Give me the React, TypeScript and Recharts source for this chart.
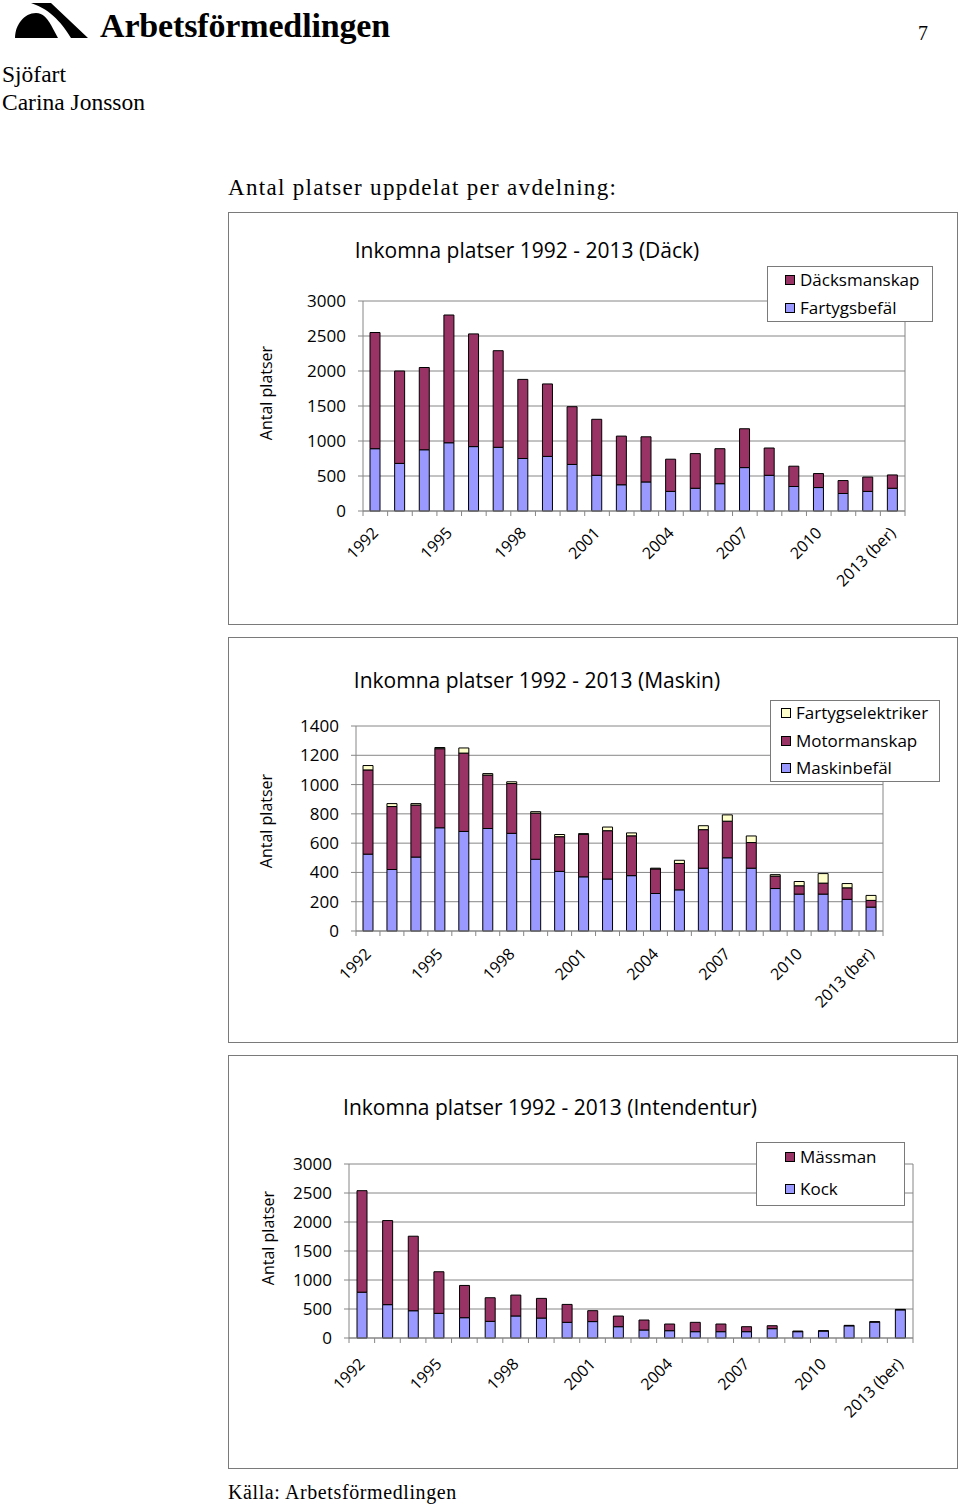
import React from 'react';
import { BarChart, Bar, XAxis, YAxis, CartesianGrid } from 'recharts';

// ---------- data ----------
const years = [
  '1992', '1993', '1994', '1995', '1996', '1997', '1998', '1999', '2000', '2001', '2002',
  '2003', '2004', '2005', '2006', '2007', '2008', '2009', '2010', '2011', '2012', '2013 (ber)',
];

// Däck
const fartygsbefal = [890, 680, 875, 975, 920, 910, 750, 780, 665, 510, 375, 415, 280, 325, 390, 620, 510, 350, 335, 250, 280, 325];
const dacksmanskap = [1660, 1320, 1175, 1825, 1610, 1380, 1130, 1035, 825, 800, 695, 645, 460, 495, 500, 555, 390, 290, 200, 185, 205, 190];

// Maskin
const maskinbefal = [525, 420, 505, 705, 680, 700, 667, 490, 407, 370, 355, 378, 256, 281, 429, 500, 429, 290, 252, 252, 216, 163];
const motormanskap = [575, 430, 355, 540, 535, 365, 340, 315, 237, 290, 330, 272, 168, 180, 263, 250, 175, 85, 57, 75, 79, 46];
const fartygselektriker = [30, 20, 10, 8, 35, 10, 12, 10, 15, 5, 25, 20, 5, 22, 27, 43, 45, 10, 29, 65, 29, 34];

// Intendentur
const kock = [790, 575, 470, 425, 350, 287, 380, 344, 270, 283, 195, 138, 126, 109, 109, 109, 161, 109, 120, 210, 275, 485];
const massman = [1750, 1450, 1285, 717, 556, 407, 360, 339, 309, 188, 184, 172, 115, 161, 132, 86, 51, 11, 6, 8, 6, 8];

const ticksDack = [0, 500, 1000, 1500, 2000, 2500, 3000];
const ticksMaskin = [0, 200, 400, 600, 800, 1000, 1200, 1400];
const ticksIntendentur = [0, 500, 1000, 1500, 2000, 2500, 3000];

// ---------- styles ----------
const FONT = '"Open Sans", "DejaVu Sans", sans-serif';
const SERIF = '"Liberation Serif", "Times New Roman", serif';
const GRID = '#868686';
const C_BLUE = '#9999FF';
const C_PURPLE = '#993366';
const C_YELLOW = '#FFFFCC';

type Series = { key: string; name: string; color: string; values: number[] };

function makeRows(series: Series[]) {
  return years.map((y, i) => {
    const r: Record<string, any> = { year: y };
    series.forEach((s) => {
      r[s.key] = s.values[i];
    });
    return r;
  });
}

function XTick(props: any) {
  const { x, y, payload, labelDy } = props;
  const half = payload && typeof payload.offset === 'number' ? payload.offset : 12;
  const idx = payload && typeof payload.index === 'number' ? payload.index : props.index;
  const ax = x + 4;
  const ay = y + labelDy;
  return (
    <g>
      <line x1={x - half} x2={x - half} y1={y} y2={y + 5} stroke={GRID} strokeWidth={1} />
      {idx === years.length - 1 && (
        <line x1={x + half} x2={x + half} y1={y} y2={y + 5} stroke={GRID} strokeWidth={1} />
      )}
      {idx % 3 === 0 && (
        <text
          x={ax}
          y={ay}
          transform={`rotate(-45 ${ax} ${ay})`}
          textAnchor="end"
          fontSize={16}
          fontFamily={FONT}
          fill="#000"
        >
          {payload.value}
        </text>
      )}
    </g>
  );
}

type PanelProps = {
  top: number;
  height: number;
  title: string;
  titleX: number;
  titleY: number;
  series: Series[]; // bottom -> top
  legendOrder: Series[];
  yTicks: number[];
  margin: { top: number; right: number; bottom: number; left: number };
  labelDy: number;
  legend: { left: number; top: number; width: number; height: number; rows: number[]; sqX: number };
  yLabel: { x: number; y: number };
};

function Panel(p: PanelProps) {
  const rows = makeRows(p.series);
  const yMax = p.yTicks[p.yTicks.length - 1];
  return (
    <div
      style={{
        position: 'absolute',
        left: 228,
        top: p.top,
        width: 730,
        height: p.height,
      }}
    >
      <div
        style={{
          position: 'absolute',
          left: 0,
          top: 0,
          width: 730,
          height: p.height,
          boxSizing: 'border-box',
          border: '1px solid #7a7a7a',
        }}
      />
      <div style={{ position: 'absolute', left: 0, top: 0 }}>
        <BarChart width={730} height={p.height} data={rows} margin={p.margin} barSize={10}>
          <CartesianGrid vertical={false} stroke={GRID} strokeWidth={1} />
          <XAxis
            dataKey="year"
            interval={0}
            tickLine={false}
            tickSize={0}
            tickMargin={0}
            height={60}
            axisLine={{ stroke: GRID }}
            tick={<XTick labelDy={p.labelDy} />}
          />
          <YAxis
            domain={[0, yMax]}
            ticks={p.yTicks}
            interval={0}
            width={60}
            tickSize={5}
            tickMargin={12}
            axisLine={{ stroke: GRID }}
            tickLine={{ stroke: GRID }}
            tick={{ fontSize: 17, fontFamily: FONT, fill: '#000' }}
          />
          <YAxis
            yAxisId="frame"
            orientation="right"
            domain={[0, 1]}
            width={1}
            tick={false}
            tickLine={false}
            axisLine={{ stroke: GRID }}
          />
          {p.series.map((s) => (
            <Bar
              key={s.key}
              dataKey={s.key}
              name={s.name}
              stackId="a"
              fill={s.color}
              stroke="#000"
              strokeWidth={1}
              isAnimationActive={false}
            />
          ))}
        </BarChart>
      </div>
      {/* title */}
      <div
        style={{
          position: 'absolute',
          left: p.titleX,
          top: p.titleY,
          transform: 'translate(-50%, -50%)',
          fontFamily: FONT,
          fontSize: 21,
          lineHeight: 1,
          whiteSpace: 'nowrap',
          color: '#000',
        }}
      >
        {p.title}
      </div>
      {/* y label */}
      <div
        style={{
          position: 'absolute',
          left: p.yLabel.x,
          top: p.yLabel.y,
          transform: 'translate(-50%, -50%) rotate(-90deg)',
          fontFamily: FONT,
          fontSize: 16,
          lineHeight: 1,
          whiteSpace: 'nowrap',
          color: '#000',
        }}
      >
        Antal platser
      </div>
      {/* legend */}
      <div
        style={{
          position: 'absolute',
          left: p.legend.left,
          top: p.legend.top,
          width: p.legend.width,
          height: p.legend.height,
          boxSizing: 'border-box',
          border: '1px solid #7a7a7a',
          background: '#fff',
        }}
      >
        {p.legendOrder.map((s, i) => (
          <div
            key={s.key}
            style={{
              position: 'absolute',
              left: p.legend.sqX,
              top: p.legend.rows[i] - 12,
              height: 24,
              display: 'flex',
              alignItems: 'center',
              fontFamily: FONT,
              fontSize: 17,
              whiteSpace: 'nowrap',
              color: '#000',
            }}
          >
            <span
              style={{
                display: 'inline-block',
                width: 10,
                height: 10,
                boxSizing: 'border-box',
                border: '1px solid #000',
                background: s.color,
                marginRight: 5,
              }}
            />
            {s.name}
          </div>
        ))}
      </div>
    </div>
  );
}

const sFartygsbefal: Series = { key: 'fartygsbefal', name: 'Fartygsbefäl', color: C_BLUE, values: fartygsbefal };
const sDacksmanskap: Series = { key: 'dacksmanskap', name: 'Däcksmanskap', color: C_PURPLE, values: dacksmanskap };
const sMaskinbefal: Series = { key: 'maskinbefal', name: 'Maskinbefäl', color: C_BLUE, values: maskinbefal };
const sMotormanskap: Series = { key: 'motormanskap', name: 'Motormanskap', color: C_PURPLE, values: motormanskap };
const sElektriker: Series = { key: 'fartygselektriker', name: 'Fartygselektriker', color: C_YELLOW, values: fartygselektriker };
const sKock: Series = { key: 'kock', name: 'Kock', color: C_BLUE, values: kock };
const sMassman: Series = { key: 'massman', name: 'Mässman', color: C_PURPLE, values: massman };

function Logo() {
  return (
    <svg width={100} height={45} style={{ position: 'absolute', left: 0, top: 0 }}>
      <path d="M15,38 C15,25 24,13 36,13 C43,13 47,18 51,25 L58,38 Z" fill="#000" />
      <path d="M31,3 L51,3 L88,38 L71,38 C63,25 52,10 31,3 Z" fill="#000" />
    </svg>
  );
}

export default function App() {
  return (
    <div
      style={{
        position: 'absolute',
        left: 0,
        top: 0,
        width: 960,
        height: 1505,
        background: '#fff',
        overflow: 'hidden',
      }}
    >
      <Logo />
      <div
        style={{
          position: 'absolute',
          left: 100,
          top: 9,
          fontFamily: SERIF,
          fontWeight: 'bold',
          fontSize: 34,
          lineHeight: '34px',
          letterSpacing: -0.15,
          whiteSpace: 'nowrap',
          color: '#000',
        }}
      >
        Arbetsförmedlingen
      </div>
      <div
        style={{ position: 'absolute', left: 918, top: 23, fontFamily: SERIF, fontSize: 20, lineHeight: '20px', color: '#000' }}
      >
        7
      </div>
      <div
        style={{ position: 'absolute', left: 2, top: 63, fontFamily: SERIF, fontSize: 23.5, lineHeight: '23.5px', color: '#000' }}
      >
        Sjöfart
      </div>
      <div
        style={{ position: 'absolute', left: 2, top: 91, fontFamily: SERIF, fontSize: 23.5, lineHeight: '23.5px', color: '#000', whiteSpace: 'nowrap' }}
      >
        Carina Jonsson
      </div>
      <div
        style={{
          position: 'absolute',
          left: 228,
          top: 176,
          fontFamily: SERIF,
          fontSize: 23,
          lineHeight: '23px',
          letterSpacing: 1.3,
          color: '#000',
          whiteSpace: 'nowrap',
        }}
      >
        Antal platser uppdelat per avdelning:
      </div>

      <Panel
        top={212}
        height={413}
        title="Inkomna platser 1992 - 2013 (Däck)"
        titleX={299}
        titleY={38}
        series={[sFartygsbefal, sDacksmanskap]}
        legendOrder={[sDacksmanskap, sFartygsbefal]}
        yTicks={ticksDack}
        margin={{ top: 89, right: 52, bottom: 54, left: 75 }}
        labelDy={23}
        legend={{ left: 539, top: 54, width: 166, height: 56, rows: [12.5, 40.5], sqX: 17 }}
        yLabel={{ x: 38, y: 181 }}
      />

      <Panel
        top={637}
        height={406}
        title="Inkomna platser 1992 - 2013 (Maskin)"
        titleX={309}
        titleY={43}
        series={[sMaskinbefal, sMotormanskap, sElektriker]}
        legendOrder={[sElektriker, sMotormanskap, sMaskinbefal]}
        yTicks={ticksMaskin}
        margin={{ top: 89, right: 74, bottom: 52, left: 68 }}
        labelDy={24}
        legend={{ left: 542, top: 63, width: 170, height: 82, rows: [11.5, 39.5, 66.5], sqX: 10 }}
        yLabel={{ x: 38, y: 184 }}
      />

      <Panel
        top={1055}
        height={414}
        title="Inkomna platser 1992 - 2013 (Intendentur)"
        titleX={322}
        titleY={52}
        series={[sKock, sMassman]}
        legendOrder={[sMassman, sKock]}
        yTicks={ticksIntendentur}
        margin={{ top: 109, right: 44, bottom: 71, left: 61 }}
        labelDy={27}
        legend={{ left: 528, top: 87, width: 149, height: 64, rows: [13.5, 45.5], sqX: 28 }}
        yLabel={{ x: 40, y: 183 }}
      />

      <div
        style={{
          position: 'absolute',
          left: 228,
          top: 1482,
          fontFamily: SERIF,
          fontSize: 20,
          lineHeight: '20px',
          letterSpacing: 0.6,
          color: '#000',
          whiteSpace: 'nowrap',
        }}
      >
        Källa: Arbetsförmedlingen
      </div>
    </div>
  );
}
